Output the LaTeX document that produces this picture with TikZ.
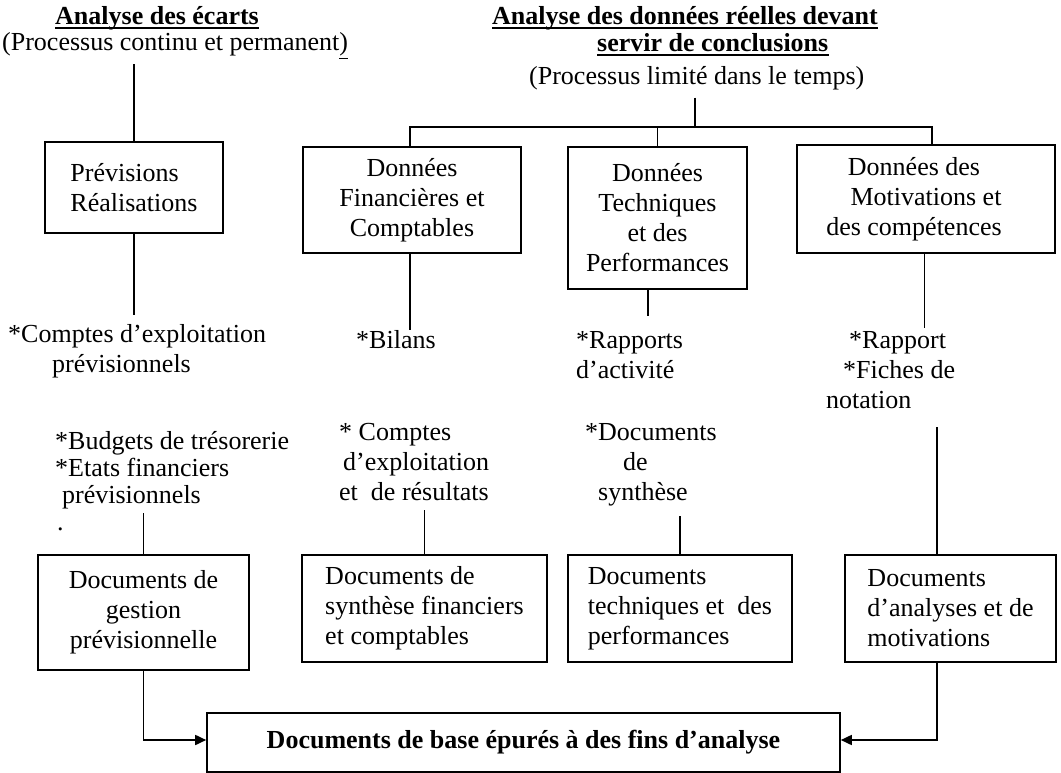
\documentclass[tikz,border=0pt]{standalone}
\usepackage{fontspec}
\setmainfont{Liberation Serif}
\usepackage{tikz}
\usetikzlibrary{positioning,calc,arrows.meta}
\tikzset{
>={Triangle[length=11pt,width=10pt]}, % filled arrow heads
txt/.style={inner sep=0pt, anchor=base west, align=left, font=\fontsize{26}{30}\selectfont}, % free text, placed at its last baseline
ttl/.style={txt, font=\fontsize{26}{30}\selectfont\bfseries}, % titles
box/.style={draw, line width=1.6pt, inner sep=4pt, align=center, font=\fontsize{26}{30}\selectfont},
wire/.style={line width=1.7pt},
ul/.style={line width=1.3pt},
}

\begin{document}
\begin{tikzpicture}[x=1pt,y=-1pt]
    \useasboundingbox (0,0) rectangle (1061,773);
    % titles
    \node[ttl] (ecarts) at (55,25) {Analyse des écarts};
    \node[txt] (continu) at (2,51) {(Processus continu et permanent\underline{)}};
    \node[ttl] (reelles) at (492,25) {Analyse des données réelles devant};
    \node[ttl] (concl) at (597,52) {servir de conclusions};
    \node[txt] (limite) at (529,85) {(Processus limité dans le temps)};
    \draw[ul] ([yshift=-3pt]ecarts.base west) -- ([yshift=-3pt]ecarts.base east);
    \draw[ul] ([yshift=-3pt]reelles.base west) -- ([yshift=-3pt]reelles.base east);
    \draw[ul] ([yshift=-3pt]concl.base west) -- ([yshift=-3pt]concl.base east);
    % upper boxes
    \node[box, align=left, minimum width=178pt, minimum height=91pt] (prev) at (134,187.5) {Prévisions\\Réalisations};
    \node[box, minimum width=218pt, minimum height=106pt] (donA) at (412,200) {Données\\Financières et\\Comptables};
    \node[box, minimum width=179pt, minimum height=142pt] (donB) at (657.5,218) {Données\\Techniques\\et des\\Performances};
    \node[box, minimum width=258pt, minimum height=108pt] (donC) at (926,199) {Données des\hspace*{24pt}\\Motivations et\hspace*{24pt}\\des compétences\hspace*{24pt}};
    \coordinate (bus) at (695,127);
    % free texts
    \node[txt] (cptA) at (8,372) {*Comptes d’exploitation\\\hspace*{44pt}prévisionnels};
    \node[txt, font=\fontsize{26}{27}\selectfont] (budA) at (55,503) {*Budgets de trésorerie\\*Etats financiers\\\hspace*{7pt}prévisionnels};
    \node[txt] (dot) at (57,530) {.};
    \node[txt] (bilA) at (356,348) {*Bilans};
    \node[txt] (cptB) at (339,500) {* Comptes\\\hspace*{4pt}d’exploitation\\et\ \ de résultats};
    \node[txt] (rapB) at (576,378) {*Rapports\\d’activité};
    \node[txt] (docB) at (585,500) {*Documents\\\hspace*{38pt}de\\\hspace*{13pt}synthèse};
    \node[txt] (rapC) at (826,408) {\hspace*{23pt}*Rapport\\\hspace*{17pt}*Fiches de\\notation};
    % lower boxes
    \node[box, minimum width=211pt, minimum height=115pt] (gesA) at (143.5,612.5) {Documents de\\gestion\\prévisionnelle};
    \node[box, align=left, minimum width=245pt, minimum height=107pt] (synA) at (424.5,608.5) {Documents de\\synthèse financiers\\et comptables};
    \node[box, align=left, minimum width=224pt, minimum height=107pt] (tecB) at (680,608.5) {Documents\\techniques et\ \ des\\performances};
    \node[box, align=left, minimum width=211pt, minimum height=107pt] (anaC) at (950.5,608.5) {Documents\\d’analyses et de\\motivations};
    \node[box, minimum width=633pt, minimum height=59pt, font=\fontsize{26}{30}\selectfont\bfseries] (basA) at (523.5,742.5) {Documents de base épurés à des fins d’analyse};
    % connectors
    \draw[wire, shorten >=5pt] (prev.north) -- (prev.north |- continu.south);
    \draw[wire, shorten >=9pt] (prev.south) -- (prev.south |- cptA.north);
    \draw[wire, shorten >=4pt] (gesA.north) -- (gesA.north |- budA.south);
    \draw[wire, shorten <=7pt] (limite.south -| bus) -- (bus);
    \draw[wire] ([xshift=-2pt]donA.north) |- (bus) -| ([xshift=6pt]donC.north);
    \draw[wire] (donB.north) -- (donB.north |- bus);
    \draw[wire] ([xshift=-2pt]donA.south) -- ([xshift=-2pt]donA.south |- bilA.north);
    \draw[wire, shorten >=10pt] (synA.north) -- (synA.north |- cptB.south);
    \draw[wire, shorten >=15pt] ([xshift=-9.5pt]donB.south) -- ([xshift=-9.5pt]donB.south |- rapB.north);
    \draw[wire, shorten >=10pt] (tecB.north) -- (tecB.north |- docB.south);
    \draw[wire, shorten >=3pt] ([xshift=-1.5pt]donC.south) -- ([xshift=-1.5pt]donC.south |- rapC.north);
    \draw[wire, shorten >=19pt] ([xshift=-13.5pt]anaC.north) -- ([xshift=-13.5pt]anaC.north |- rapC.south);
    \draw[wire, ->] (gesA.south) |- ([yshift=2.5pt]basA.west);
    \draw[wire, ->] ([xshift=-13.5pt]anaC.south) |- ([yshift=2.5pt]basA.east);
\end{tikzpicture}
\end{document}
